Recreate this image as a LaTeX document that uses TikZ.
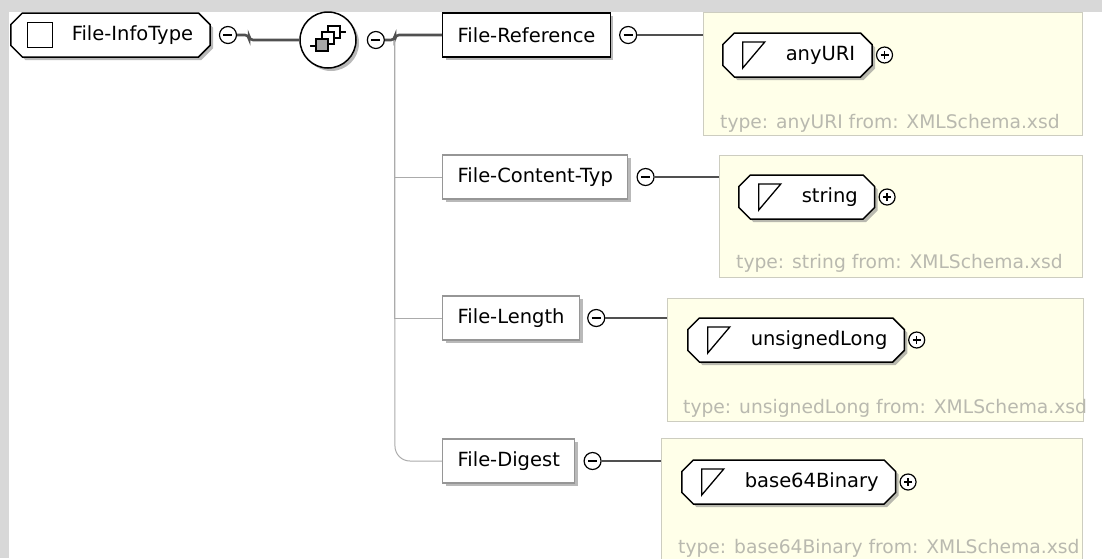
\documentclass[tikz,border=0pt]{standalone}
\usepackage{fontspec}
\setmainfont{DejaVu Sans}
\usetikzlibrary{shapes.misc, shadows, positioning, calc}
\definecolor{panelgray}{RGB}{216,216,216}
\definecolor{typefill}{RGB}{255,255,233}
\definecolor{typeline}{RGB}{205,205,192}
\definecolor{typetext}{RGB}{185,185,175}
\definecolor{wire}{RGB}{80,80,80}
\definecolor{optline}{RGB}{150,150,150}

\begin{document}
\begin{tikzpicture}[x=1pt, y=-1pt,
    every node/.style={font=\fontsize{19.5}{22}\selectfont},
    shade/.style={drop shadow={shadow xshift=3pt, shadow yshift=-3pt, fill=black!50, opacity=0.55}},
    elem/.style={rectangle, draw=optline, line width=1.2pt, fill=white, minimum height=44pt, inner xsep=15pt, anchor=west, shade},
    octo/.style={chamfered rectangle, chamfered rectangle xsep=8pt, draw, line width=1.5pt, fill=white, minimum height=44pt, inner xsep=9pt, anchor=west, shade},
    ctype/.style={octo, path picture={\draw[line width=1.3pt] ([xshift=17pt,yshift=12.5pt]path picture bounding box.west) rectangle ++(25,25);}},
    stype/.style={octo, path picture={\draw[line width=1.3pt] ([xshift=20pt,yshift=13pt]path picture bounding box.west) -- ++(22,0) -- ++(-22,26) -- cycle;}},
    minus/.style={circle, draw, line width=1.2pt, fill=white, minimum size=17pt, inner sep=0pt,
        path picture={\draw[line width=1.2pt] ([xshift=-4.5pt]path picture bounding box.center) -- ++(9,0);}},
    plus/.style={circle, draw, line width=1.2pt, fill=white, minimum size=16pt, inner sep=0pt,
        path picture={\draw[line width=1.2pt] ([xshift=-4pt]path picture bounding box.center) -- ++(8,0)
            ([yshift=4pt]path picture bounding box.center) -- ++(0,8);}},
    seqbox/.style={circle, draw, line width=1.5pt, fill=white, minimum size=56pt, inner sep=0pt, shade,
        path picture={\begin{scope}[shift={(path picture bounding box.center)}, line width=1.1pt]
            \draw (-20,6) -- (-12,6) (12,-8) -- (20,-8);
            \fill (-20,6) circle (2.2) (20,-8) circle (2.2);
            \draw[fill=white] (0,-14) rectangle (12,-2);
            \draw[fill=white] (-6,-8) rectangle (6,4);
            \draw[fill=gray!70] (-12,-1) rectangle (0,11);
            \end{scope}}},
    tbox/.style={rectangle, draw=typeline, line width=1pt, fill=typefill, anchor=north west},
    tnote/.style={text=typetext, anchor=west, inner sep=0pt, font=\fontsize{18.7}{22}\selectfont},
    conn/.style={draw=wire, line width=2.6pt},
    branch/.style={draw=optline!80, line width=1pt}
]
\useasboundingbox (0,0) rectangle (1102,558);
\fill[panelgray] (0,0) rectangle (1102,558);
\fill[white] (9,12) rectangle (1102,558);

% type panels
\node[tbox, minimum width=379pt, minimum height=123pt] (refty) at (703,12) {};
\node[tbox, minimum width=363pt, minimum height=122pt] (ctypty) at (719,155) {};
\node[tbox, minimum width=416pt, minimum height=123pt] (lenty) at (667,298) {};
\node[tbox, minimum width=421pt, minimum height=130pt] (digty) at (661,438) {};

% root and sequence
\node[ctype] (root) at (10,35) {\hspace*{44pt}File-InfoType};
\node[minus, right=8pt of root] (m0) {};
\node[seqbox] (seq) at (328,40) {};
\node[minus, right=10pt of seq] (m1) {};
\coordinate (fork) at ($(m1.east)+(10,0)$);

% child elements
\node[elem, draw=black] (ref) at (442,35) {File-Reference};
\node[elem] (ctyp) at (442,177) {File-Content-Typ};
\node[elem] (len) at (442,318) {File-Length};
\node[elem] (dig) at (442,461) {File-Digest};
\node[minus, right=8pt of ref] (refm) {};
\node[minus, right=8pt of ctyp] (ctypm) {};
\node[minus, right=7pt of len] (lenm) {};
\node[minus, right=8pt of dig] (digm) {};

% simple types
\node[stype] (uri) at (722,55) {\hspace*{46pt}anyURI};
\node[plus, right=3pt of uri] (urip) {};
\node[tnote] (urin) at (720,123) {type: anyURI from: XMLSchema.xsd};
\node[stype] (str) at (738,197) {\hspace*{46pt}string};
\node[plus, right=3pt of str] (strp) {};
\node[tnote] (strn) at (736,263) {type: string from: XMLSchema.xsd};
\node[stype] (ulong) at (687,340) {\hspace*{46pt}unsignedLong};
\node[plus, right=3pt of ulong] (ulongp) {};
\node[tnote] (ulongn) at (683,408) {type: unsignedLong from: XMLSchema.xsd};
\node[stype] (bin) at (681,482) {\hspace*{46pt}base64Binary};
\node[plus, right=3pt of bin] (binp) {};
\node[tnote] (binn) at (678,548) {type: base64Binary from: XMLSchema.xsd};

% connectors
\draw[conn, rounded corners=4pt] (m0.east) -- ++(12,0) |- (seq.west);
\draw[conn, rounded corners=4pt] (m1.east) -- (fork) |- (ref.west);
\draw[branch] (fork) |- (ctyp.west);
\draw[branch] (fork) |- (len.west);
\draw[branch, rounded corners=15pt] (fork) |- (dig.west);
\draw[conn] (refm.east) -- (refm.east -| refty.west);
\draw[conn] (ctypm.east) -- (ctypm.east -| ctypty.west);
\draw[conn] (lenm.east) -- (lenm.east -| lenty.west);
\draw[conn] (digm.east) -- (digm.east -| digty.west);
\end{tikzpicture}
\end{document}
